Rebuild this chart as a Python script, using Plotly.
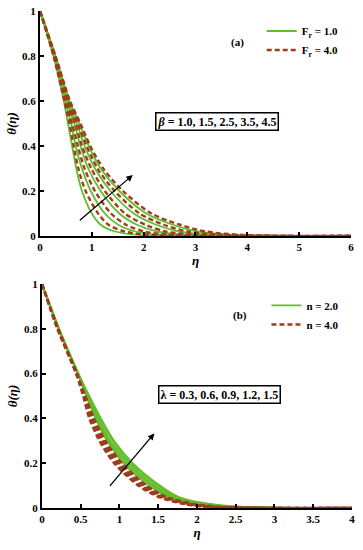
import plotly.graph_objects as go

# theta levels shared by all curves (read at these theta values)
theta_levels = [1.0, 0.8, 0.6, 0.5, 0.4, 0.3, 0.2, 0.1, 0.05, 0.02, 0.005, 0.0]

# ---- panel (a): eta where each curve reaches the theta levels ----
beta_labels = ["1.0", "1.5", "2.5", "3.5", "4.5"]
a_green_b10 = [0, 0.26, 0.46, 0.54, 0.62, 0.70, 0.81, 1.00, 1.17, 1.45, 1.90, 6]
a_green_b15 = [0, 0.27, 0.49, 0.60, 0.69, 0.81, 0.98, 1.25, 1.51, 1.84, 2.34, 6]
a_green_b25 = [0, 0.28, 0.52, 0.66, 0.78, 0.93, 1.17, 1.53, 1.87, 2.26, 2.82, 6]
a_green_b35 = [0, 0.29, 0.54, 0.71, 0.86, 1.06, 1.36, 1.81, 2.24, 2.68, 3.30, 6]
a_green_b45 = [0, 0.30, 0.57, 0.76, 0.94, 1.17, 1.53, 2.05, 2.56, 3.04, 3.72, 6]
a_dash_b10 = [0, 0.26, 0.47, 0.57, 0.65, 0.74, 0.88, 1.12, 1.32, 1.63, 2.10, 6]
a_dash_b15 = [0, 0.27, 0.50, 0.62, 0.73, 0.86, 1.06, 1.37, 1.66, 2.01, 2.54, 6]
a_dash_b25 = [0, 0.28, 0.53, 0.68, 0.81, 0.99, 1.25, 1.64, 2.03, 2.43, 3.02, 6]
a_dash_b35 = [0, 0.29, 0.56, 0.73, 0.90, 1.11, 1.44, 1.92, 2.39, 2.85, 3.50, 6]
a_dash_b45 = [0, 0.30, 0.58, 0.78, 0.97, 1.22, 1.60, 2.15, 2.70, 3.20, 3.90, 6]

# ---- panel (b) ----
lambda_labels = ["0.3", "0.6", "0.9", "1.2", "1.5"]
b_green_l03 = [0, 0.21, 0.46, 0.57, 0.69, 0.84, 1.05, 1.38, 1.63, 1.96, 2.35, 4]
b_green_l06 = [0, 0.21, 0.46, 0.58, 0.70, 0.86, 1.08, 1.42, 1.66, 2.00, 2.41, 4]
b_green_l09 = [0, 0.22, 0.46, 0.59, 0.72, 0.88, 1.11, 1.45, 1.70, 2.04, 2.48, 4]
b_green_l12 = [0, 0.22, 0.47, 0.60, 0.74, 0.91, 1.14, 1.49, 1.73, 2.08, 2.54, 4]
b_green_l15 = [0, 0.22, 0.47, 0.61, 0.76, 0.93, 1.17, 1.52, 1.76, 2.12, 2.60, 4]
b_dash_l03 = [0, 0.20, 0.44, 0.53, 0.61, 0.74, 0.93, 1.24, 1.50, 1.80, 2.10, 4]
b_dash_l06 = [0, 0.20, 0.44, 0.54, 0.63, 0.76, 0.95, 1.27, 1.53, 1.83, 2.15, 4]
b_dash_l09 = [0, 0.20, 0.45, 0.55, 0.64, 0.78, 0.98, 1.30, 1.55, 1.86, 2.20, 4]
b_dash_l12 = [0, 0.21, 0.45, 0.55, 0.66, 0.80, 1.00, 1.32, 1.58, 1.90, 2.25, 4]
b_dash_l15 = [0, 0.21, 0.45, 0.56, 0.67, 0.82, 1.03, 1.35, 1.60, 1.93, 2.30, 4]

GREEN = "#62bd2a"
BROWN = "#9c3d1c"
FONT = "Liberation Serif"

fig = go.Figure()

def add(xs, name, color, dash, xa, ya, leg, show):
    fig.add_trace(go.Scatter(
        x=xs, y=theta_levels, mode="lines", name=name,
        line=dict(color=color, width=1.8 if dash == "solid" else 2.4,
                  dash=dash, shape="spline", smoothing=0.8),
        xaxis=xa, yaxis=ya, legend=leg, showlegend=show))

a_green = [a_green_b10, a_green_b15, a_green_b25, a_green_b35, a_green_b45]
a_dash = [a_dash_b10, a_dash_b15, a_dash_b25, a_dash_b35, a_dash_b45]
for i, xs in enumerate(a_green):
    add(xs, "<b>F<sub>r</sub> = 1.0</b>", GREEN, "solid", "x", "y", "legend", i == 0)
for i, xs in enumerate(a_dash):
    add(xs, "<b>F<sub>r</sub> = 4.0</b>", BROWN, "5px,3px", "x", "y", "legend", i == 0)

b_green = [b_green_l03, b_green_l06, b_green_l09, b_green_l12, b_green_l15]
b_dash = [b_dash_l03, b_dash_l06, b_dash_l09, b_dash_l12, b_dash_l15]
for i, xs in enumerate(b_green):
    add(xs, "<b>n = 2.0</b>", GREEN, "solid", "x2", "y2", "legend2", i == 0)
for i, xs in enumerate(b_dash):
    add(xs, "<b>n = 4.0</b>", BROWN, "5px,3px", "x2", "y2", "legend2", i == 0)

tickfont = dict(family=FONT, size=11, color="black", weight="bold")
titlefont = dict(family=FONT, size=13, color="black", weight="bold", style="italic")
axis_common = dict(showline=True, linecolor="black", linewidth=2, ticks="inside",
                   ticklen=4, tickwidth=1.5, tickcolor="black", showgrid=False,
                   zeroline=False, tickfont=tickfont, mirror=False, automargin=False)

fig.update_layout(
    width=363, height=550, margin=dict(l=0, r=0, t=0, b=0),
    paper_bgcolor="white", plot_bgcolor="white",
    xaxis=dict(domain=[0.1102, 0.9669], anchor="y", range=[0, 6], dtick=1,
               title=dict(text="η", font=titlefont, standoff=4), **axis_common),
    yaxis=dict(domain=[0.5709, 0.98], anchor="x", range=[0, 1], dtick=0.2,
               title=dict(text="θ(η)", font=titlefont, standoff=3), **axis_common),
    xaxis2=dict(domain=[0.1157, 0.9697], anchor="y2", range=[0, 4], dtick=0.5,
                title=dict(text="η", font=titlefont, standoff=4), **axis_common),
    yaxis2=dict(domain=[0.0764, 0.4836], anchor="x2", range=[0, 1], dtick=0.2,
                title=dict(text="θ(η)", font=titlefont, standoff=3), **axis_common),
    legend=dict(x=0.721, y=0.97, xanchor="left", yanchor="top",
                bgcolor="rgba(0,0,0,0)", font=dict(family=FONT, size=11, color="black"),
                tracegroupgap=0),
    legend2=dict(x=0.734, y=0.471, xanchor="left", yanchor="top",
                 bgcolor="rgba(0,0,0,0)", font=dict(family=FONT, size=11, color="black"),
                 tracegroupgap=0),
)

box_font = dict(family=FONT, size=12, color="black", weight="bold")
lab_font = dict(family=FONT, size=11, color="black", weight="bold")
fig.add_annotation(text="(a)", x=0.653, y=0.922, xref="paper", yref="paper",
                   xanchor="center", yanchor="middle", showarrow=False, font=lab_font)
fig.add_annotation(text="(b)", x=0.661, y=0.427, xref="paper", yref="paper",
                   xanchor="center", yanchor="middle", showarrow=False, font=lab_font)
fig.add_annotation(text="<i>β</i> = " + ", ".join(beta_labels), x=0.599, y=0.779,
                   xref="paper", yref="paper", xanchor="center", yanchor="middle",
                   showarrow=False, font=box_font,
                   bordercolor="black", borderwidth=1.5, borderpad=1, bgcolor="white")
fig.add_annotation(text="λ = " + ", ".join(lambda_labels), x=0.605, y=0.2836,
                   xref="paper", yref="paper", xanchor="center", yanchor="middle",
                   showarrow=False, font=box_font,
                   bordercolor="black", borderwidth=1.5, borderpad=1, bgcolor="white")
fig.add_annotation(x=1.79, y=0.271, ax=0.74, ay=0.064, xref="x", yref="y",
                   axref="x", ayref="y", text="", showarrow=True, arrowhead=2,
                   arrowsize=1, arrowwidth=1.3, arrowcolor="black")
fig.add_annotation(x=1.45, y=0.333, ax=0.86, ay=0.092, xref="x2", yref="y2",
                   axref="x2", ayref="y2", text="", showarrow=True, arrowhead=2,
                   arrowsize=1, arrowwidth=1.3, arrowcolor="black")

fig.write_html("out.html", config={"displayModeBar": False},
               post_script="document.body.style.margin='0';document.body.style.padding='0';")
